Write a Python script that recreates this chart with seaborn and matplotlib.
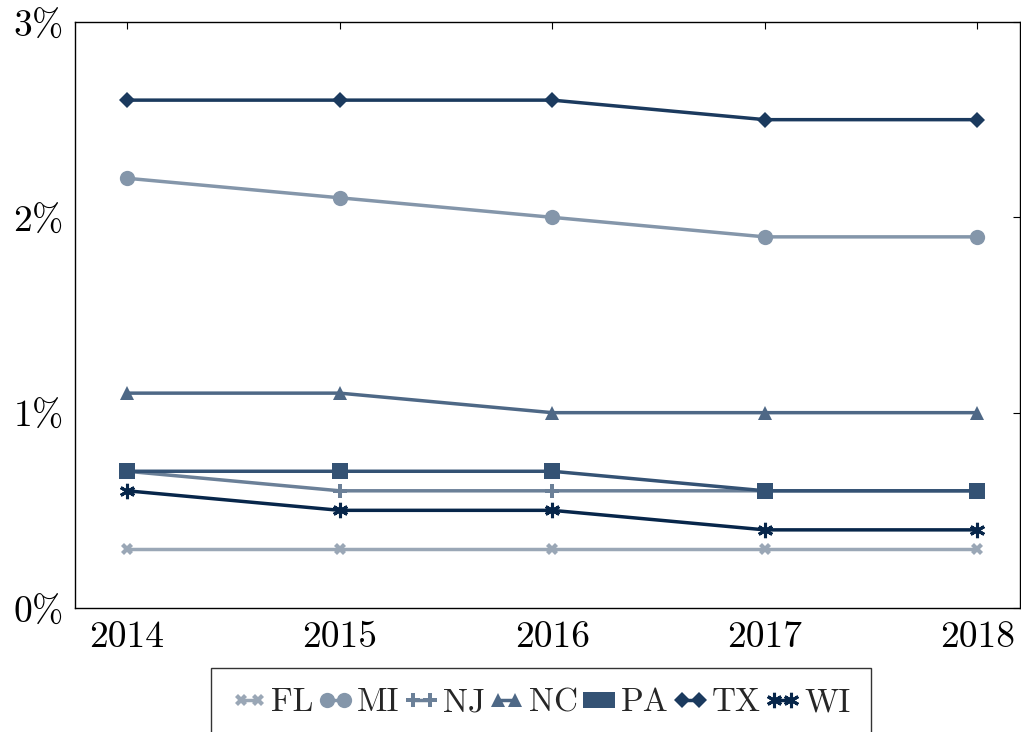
import numpy as np
import pandas as pd
import matplotlib
matplotlib.use("Agg")
import matplotlib.pyplot as plt
import seaborn as sns

# Data
years = [2014, 2015, 2016, 2017, 2018]
states = ["FL", "MI", "NJ", "NC", "PA", "TX", "WI"]
fl = [0.3, 0.3, 0.3, 0.3, 0.3]
mi = [2.2, 2.1, 2.0, 1.9, 1.9]
nj = [0.7, 0.6, 0.6, 0.6, 0.6]
nc = [1.1, 1.1, 1.0, 1.0, 1.0]
pa = [0.7, 0.7, 0.7, 0.6, 0.6]
tx = [2.6, 2.6, 2.6, 2.5, 2.5]
wi = [0.6, 0.5, 0.5, 0.4, 0.4]

series = dict(zip(states, [fl, mi, nj, nc, pa, tx, wi]))
df = pd.DataFrame([(y, s, v) for s, vals in series.items() for y, v in zip(years, vals)],
                  columns=["year", "state", "value"])

colors = ["#9aa7b6", "#8496aa", "#6b8098", "#4e6886", "#345274", "#1b3a5e", "#07264a"]
markers = ["X", "o", "P", "^", "s", "D", "*"]
palette = dict(zip(states, colors))
marker_map = dict(zip(states, markers))
# asterisk drawn as line art after seaborn has placed the series
final_marker = dict(marker_map, WI=(6, 2, 0))
sizes = {"FL": 8, "MI": 11, "NJ": 10, "NC": 10, "PA": 11, "TX": 8, "WI": 11}
edge_w = {"FL": 0, "MI": 0, "NJ": 0, "NC": 0, "PA": 0, "TX": 0, "WI": 2.2}

sns.set_style("white")
plt.rcParams["font.family"] = ["cmr10", "DejaVu Serif"]
plt.rcParams["mathtext.fontset"] = "cm"
plt.rcParams["axes.formatter.use_mathtext"] = True

fig = plt.figure(figsize=(10.21, 7.32), dpi=100)
ax = fig.add_axes([75 / 1021, 1 - 608 / 732, (1020 - 75) / 1021, (608 - 22) / 732])

sns.lineplot(data=df, x="year", y="value", hue="state", style="state",
             palette=palette, markers=marker_map, dashes=False,
             linewidth=2.5, markersize=10, ax=ax, legend=False)

for line, s in zip(ax.lines, states):
    line.set_marker(final_marker[s])
    line.set_markersize(sizes[s])
    line.set_markeredgewidth(edge_w[s])
    line.set_markeredgecolor(palette[s])

ax.set_xlim(2013.755, 2018.2)
ax.set_ylim(0, 3)
ax.set_xticks(years)
ax.set_xticklabels([str(y) for y in years])
ax.set_yticks([0, 1, 2, 3])
ax.set_yticklabels([r"$0\%$", r"$1\%$", r"$2\%$", r"$3\%$"])
ax.tick_params(axis="both", direction="in", labelsize=27, length=5, width=0.8,
               top=True, right=True, colors="black", pad=9)
ax.set_xlabel("")
ax.set_ylabel("")
for sp in ax.spines.values():
    sp.set_color("black")
    sp.set_linewidth(1.0)

handles = [plt.Line2D([], [], color=palette[s], marker=final_marker[s],
                      markersize=sizes[s], linewidth=2.5,
                      markeredgewidth=edge_w[s], markeredgecolor=palette[s])
           for s in states]
leg = fig.legend(handles, states, loc="upper center", bbox_to_anchor=(541 / 1021, 1 - 668 / 732),
                 ncol=7, frameon=True, fontsize=24, numpoints=2, handlelength=1.1,
                 handletextpad=0.1, columnspacing=0.1, borderpad=0.6, borderaxespad=0,
                 fancybox=False, edgecolor="black")
leg.get_frame().set_linewidth(1.0)

fig.savefig("out.png", dpi=100)
